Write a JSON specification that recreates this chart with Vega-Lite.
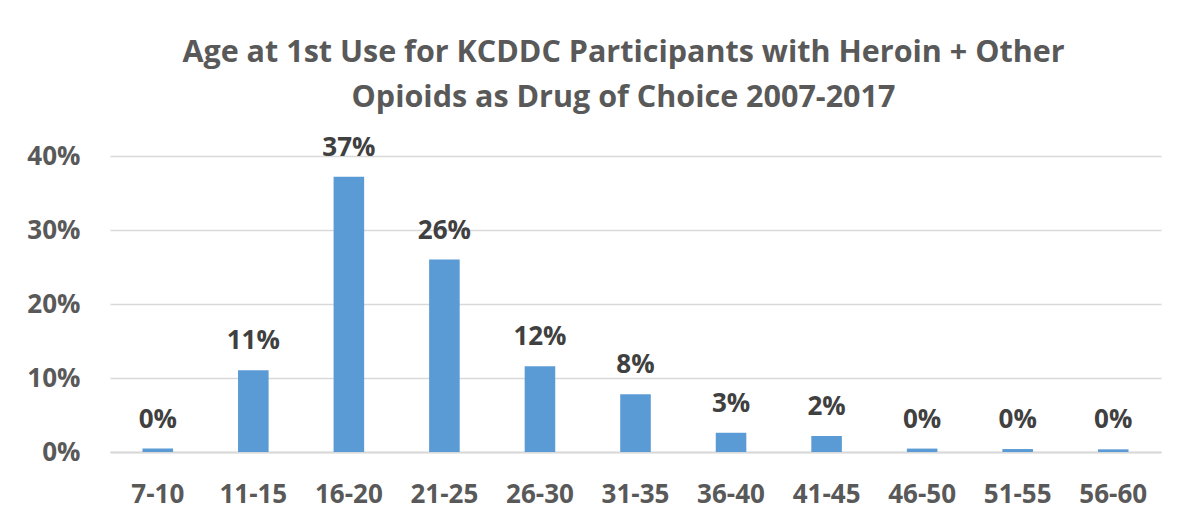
{
  "$schema": "https://vega.github.io/schema/vega-lite/v6.json",
  "width": 1051,
  "height": 296,
  "autosize": {"type": "none"},
  "padding": {"left": 110, "top": 156, "right": 21, "bottom": 71},
  "title": {
    "text": ["Age at 1st Use for KCDDC Participants with Heroin + Other", "Opioids as Drug of Choice 2007-2017"],
    "font": "Open Sans",
    "fontSize": 30.5,
    "fontWeight": "bold",
    "color": "#595959",
    "anchor": "middle",
    "baseline": "bottom",
    "lineHeight": 45,
    "offset": -9,
    "dx": -12
  },
  "data": {
    "values": [
      {"age": "7-10", "share": 0.0046},
      {"age": "11-15", "share": 0.1104},
      {"age": "16-20", "share": 0.372},
      {"age": "21-25", "share": 0.26},
      {"age": "26-30", "share": 0.116},
      {"age": "31-35", "share": 0.078},
      {"age": "36-40", "share": 0.026},
      {"age": "41-45", "share": 0.0216},
      {"age": "46-50", "share": 0.0046},
      {"age": "51-55", "share": 0.004},
      {"age": "56-60", "share": 0.0036}
    ]
  },
  "encoding": {
    "x": {
      "field": "age",
      "type": "nominal",
      "sort": null,
      "scale": {"paddingInner": 0.68, "paddingOuter": 0.34},
      "axis": {
        "title": null,
        "labelAngle": 0,
        "labelFont": "Open Sans",
        "labelFontSize": 26,
        "labelFontWeight": "bold",
        "labelColor": "#595959",
        "labelPadding": 29,
        "ticks": false,
        "domain": true,
        "domainColor": "#d9d9d9",
        "domainWidth": 2
      }
    },
    "y": {
      "field": "share",
      "type": "quantitative",
      "scale": {"domain": [0, 0.4], "nice": false},
      "axis": {
        "title": null,
        "values": [0, 0.1, 0.2, 0.3, 0.4],
        "format": ".0%",
        "labelFont": "Open Sans",
        "labelFontSize": 26,
        "labelFontWeight": "bold",
        "labelColor": "#595959",
        "labelPadding": 30,
        "ticks": false,
        "domain": false,
        "gridColor": "#d9d9d9",
        "gridWidth": 1.5
      }
    }
  },
  "layer": [
    {
      "mark": {"type": "bar", "color": "#5b9bd5"}
    },
    {
      "mark": {
        "type": "text",
        "font": "Open Sans",
        "fontSize": 26,
        "fontWeight": "bold",
        "color": "#404040",
        "baseline": "alphabetic",
        "dy": -21
      },
      "encoding": {
        "text": {"field": "share", "type": "quantitative", "format": ".0%"}
      }
    }
  ],
  "config": {
    "view": {"stroke": null},
    "background": "#ffffff"
  }
}
